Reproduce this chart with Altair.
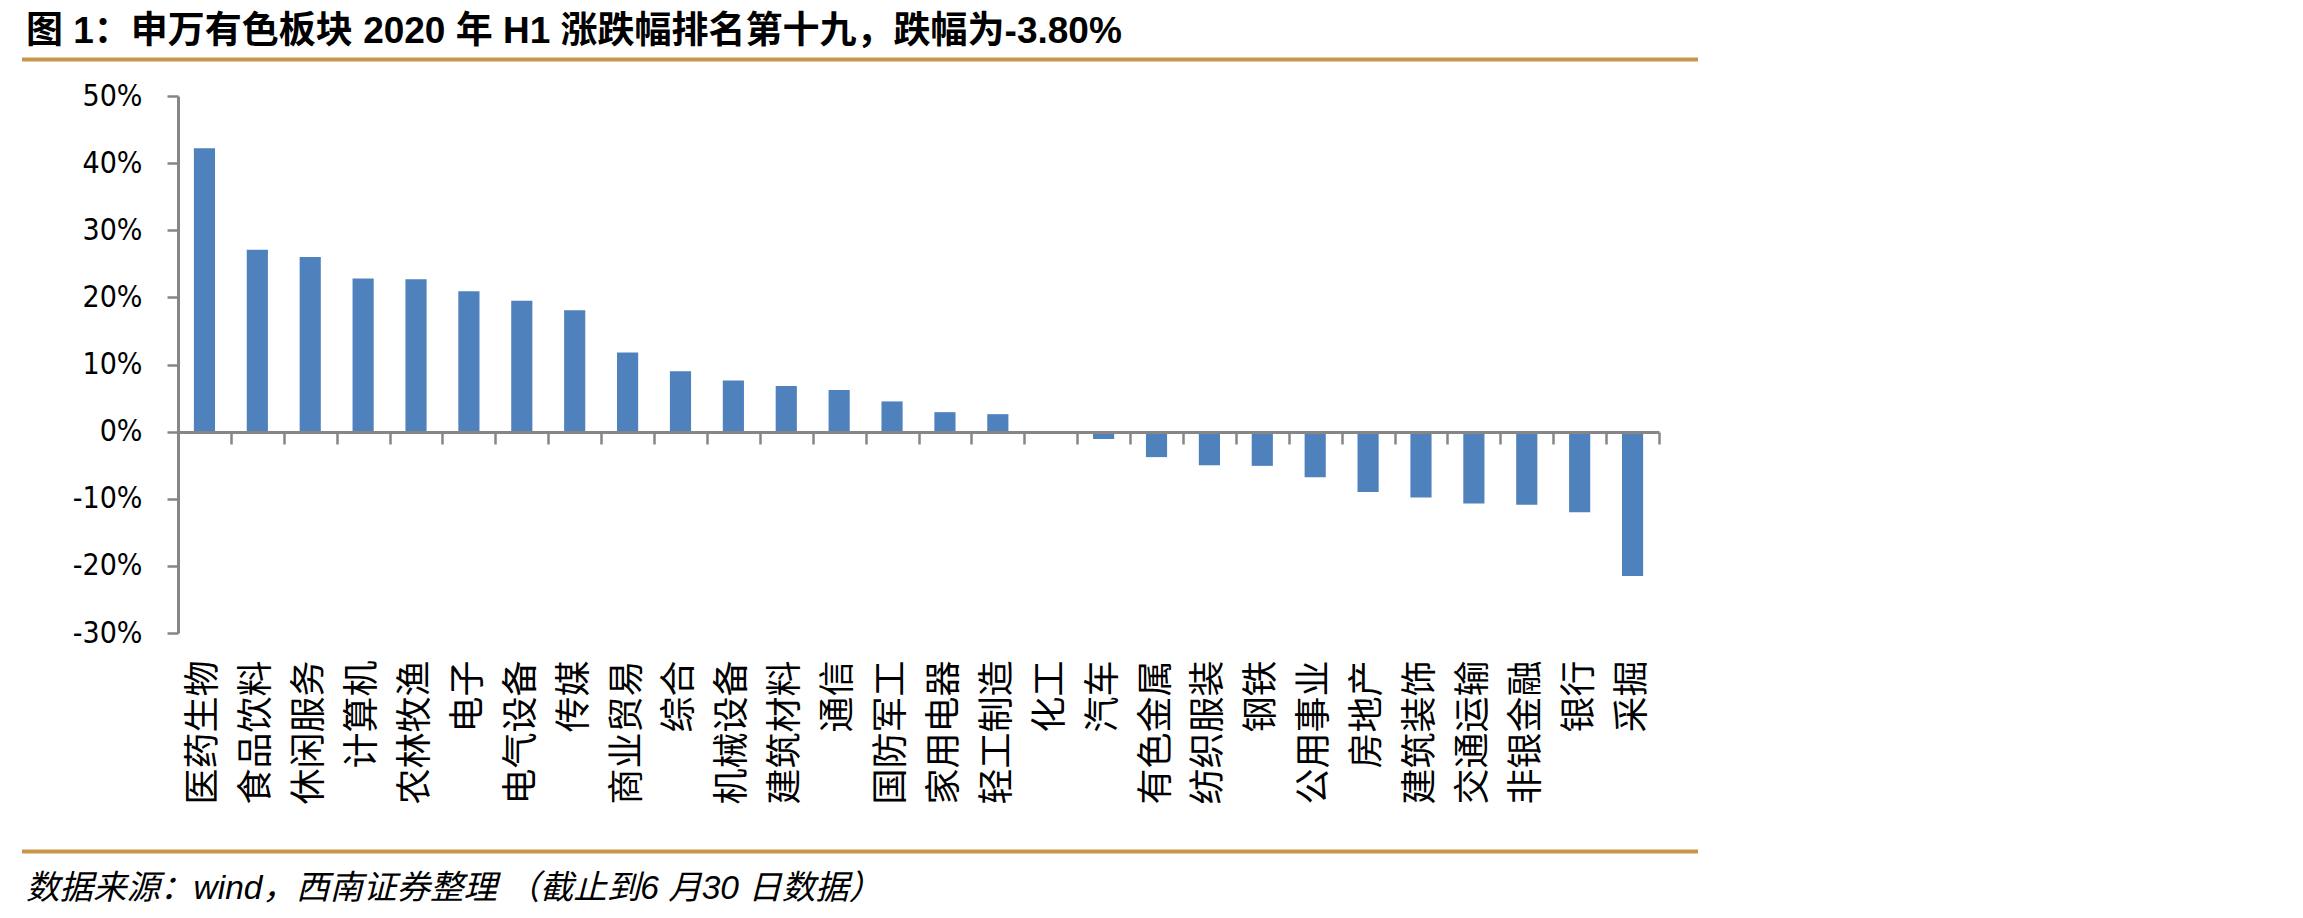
import altair as alt
import pandas as pd

categories = ["医药生物", "食品饮料", "休闲服务", "计算机", "农林牧渔", "电子", "电气设备",
              "传媒", "商业贸易", "综合", "机械设备", "建筑材料", "通信", "国防军工",
              "家用电器", "轻工制造", "化工", "汽车", "有色金属", "纺织服装", "钢铁",
              "公用事业", "房地产", "建筑装饰", "交通运输", "非银金融", "银行", "采掘"]
values = [42.2, 27.1, 26.0, 22.8, 22.7, 20.9, 19.5, 18.1, 11.8, 9.0, 7.6, 6.8, 6.2, 4.5,
          2.9, 2.6, 0.0, -1.1, -3.8, -5.0, -5.1, -6.8, -9.0, -9.8, -10.7, -10.9, -12.0, -21.5]
y_ticks = [-30, -20, -10, 0, 10, 20, 30, 40, 50]
title_text = "图 1：申万有色板块 2020 年 H1 涨跌幅排名第十九，跌幅为-3.80%"
source_text = "数据来源：wind，西南证券整理 （截止到6 月30 日数据）"

df = pd.DataFrame({"cat": categories, "val": values})

W, H = 1481, 537
LEFT, TOP = 178, 96
AXIS_GRAY = "#868686"
GOLD = "#C9974B"
CJK = "Noto Sans CJK SC"

bars = alt.Chart(df).mark_bar(color="#4F81BD").encode(
    x=alt.X("cat:N", sort=categories, title=None,
            scale=alt.Scale(paddingInner=0.6, paddingOuter=0.3),
            axis=alt.Axis(orient="bottom", domain=False, ticks=False, tickSize=0,
                          labelAngle=270, labelAlign="right", labelBaseline="middle",
                          labelPadding=27, labelFont=CJK, labelFontSize=36,
                          labelColor="#000000", labelLimit=400, labelOverlap=False,
                          labelBound=False, grid=False)),
    y=alt.Y("val:Q", title=None,
            scale=alt.Scale(domain=[-30, 50], nice=False, zero=True),
            axis=alt.Axis(values=y_ticks, labelExpr="datum.value + '%'",
                          labelFont="Liberation Sans Narrow, DejaVu Sans Condensed",
                          labelFontSize=30, labelColor="#000000", labelPadding=25,
                          tickSize=11, tickWidth=2.5, tickColor=AXIS_GRAY,
                          domainColor=AXIS_GRAY, domainWidth=3, grid=False)),
)

zero_axis = alt.Chart(df).mark_bar(opacity=0).encode(
    x=alt.X("cat:N", sort=categories, title=None,
            scale=alt.Scale(paddingInner=0, paddingOuter=0),
            axis=alt.Axis(orient="bottom", offset=-201, labels=False,
                          domain=True, domainColor=AXIS_GRAY, domainWidth=3,
                          ticks=True, tickSize=12, tickWidth=2.5, tickColor=AXIS_GRAY,
                          tickBand="extent", grid=False, zindex=1)),
)

title_df = pd.DataFrame({"t": [title_text]})
title = alt.Chart(title_df).mark_text(
    align="left", baseline="alphabetic", font="Liberation Sans, " + CJK,
    fontSize=37, fontWeight="bold", color="#000000"
).encode(text="t:N", x=alt.value(26 - LEFT), y=alt.value(43 - TOP))

src_df = pd.DataFrame({"t": [source_text]})
source = alt.Chart(src_df).mark_text(
    align="left", baseline="alphabetic", font="Liberation Sans, " + CJK,
    fontSize=33.5, fontStyle="italic", color="#000000"
).encode(text="t:N", x=alt.value(26 - LEFT), y=alt.value(899 - TOP))

rule_df = pd.DataFrame({"k": ["top", "bottom"], "yy": [59.5 - TOP, 851.5 - TOP]})
rules = alt.Chart(rule_df).mark_rule(color=GOLD, strokeWidth=4).encode(
    x=alt.value(22 - LEFT), x2=alt.value(1698 - LEFT),
    y=alt.Y("yy:Q", scale=None),
)

chart = alt.layer(bars, zero_axis, title, source, rules).resolve_scale(
    x="independent"
).resolve_axis(
    x="independent"
).properties(
    width=W, height=H,
    autosize=alt.AutoSizeParams(type="none"),
    padding={"left": LEFT, "top": TOP, "right": 2303 - LEFT - W, "bottom": 918 - TOP - H},
    background="#FFFFFF",
).configure_view(stroke=None)

chart.save("out.html", embed_options={"renderer": "svg", "actions": False})
